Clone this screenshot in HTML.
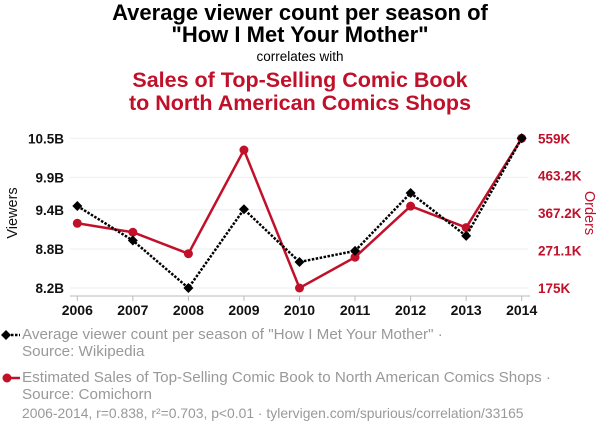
<!DOCTYPE html>
<html><head><meta charset="utf-8"><style>
body{margin:0;width:600px;height:436px;background:#fff;font-family:"Liberation Sans",sans-serif;overflow:hidden;position:relative}
.t{position:absolute;left:0;width:600px;text-align:center}
.leg{position:absolute;left:22px;font-size:15.2px;color:#999;line-height:17px;white-space:nowrap}
</style></head><body>
<div class="t" style="top:2px;font-size:22px;font-weight:bold;line-height:22px;color:#000">Average viewer count per season of<br>"How I Met Your Mother"</div>
<div class="t" style="top:49px;font-size:13.5px">correlates with</div>
<div class="t" style="top:69px;font-size:21.5px;font-weight:bold;line-height:23px;color:#c0102a">Sales of Top-Selling Comic Book<br>to North American Comics Shops</div>
<svg id="c" width="600" height="436" style="position:absolute;left:0;top:0"></svg>
<div class="leg" style="top:326px">Average viewer count per season of "How I Met Your Mother" ·<br>Source: Wikipedia</div>
<div class="leg" style="top:369px">Estimated Sales of Top-Selling Comic Book to North American Comics Shops ·<br>Source: Comichorn</div>
<div class="leg" style="top:405px;left:22px;font-size:13.9px">2006-2014, r=0.838, r²=0.703, p&lt;0.01 · tylervigen.com/spurious/correlation/33165</div>
<script>
const years=[2006,2007,2008,2009,2010,2011,2012,2013,2014];
const viewers=[9.46,8.93,8.2,9.41,8.60,8.77,9.66,9.00,10.5];
const sales=[341,318,263,529,175,254,385,330,559];
const leftTicks=[8.2,8.8,9.4,9.9,10.5];
const leftLabels=["8.2B","8.8B","9.4B","9.9B","10.5B"];
const rightTicks=[175,271.1,367.2,463.2,559];
const rightLabels=["175K","271.1K","367.2K","463.2K","559K"];
const NS="http://www.w3.org/2000/svg",svg=document.getElementById('c');
const X0=77.3,X1=521.7,Y0=288,Y1=138.3;
const x=v=>X0+(v-2006)/(2014-2006)*(X1-X0);
const yl=v=>Y0-(v-8.2)/(10.5-8.2)*(Y0-Y1);
const yr=v=>Y0-(v-175)/(559-175)*(Y0-Y1);
function mk(t,a,p){const e=document.createElementNS(NS,t);for(const k in a)e.setAttribute(k,a[k]);(p||svg).appendChild(e);return e;}
leftTicks.forEach((t,i)=>{
 const g=mk('line',{x1:70,x2:528,y1:yl(t),y2:yl(t),stroke:'#eee','stroke-width':1});
 
 
 const l=mk('text',{x:64,y:yl(t)+5,'text-anchor':'end','font-size':13.5,'font-weight':'bold',fill:'#111'});l.textContent=leftLabels[i];
 
 
});
rightTicks.forEach((t,i)=>{
 const l=mk('text',{x:538,y:yr(t)+5,'font-size':13.5,'font-weight':'bold',fill:'#c0102a'});l.textContent=rightLabels[i];
 
 
});
const ax=mk('line',{x1:70,x2:530,y1:296,y2:296,stroke:'#bbb','stroke-width':1});


years.forEach(yv=>{
 mk('line',{x1:x(yv),x2:x(yv),y1:296,y2:301,stroke:'#bbb'});
 const l=mk('text',{x:x(yv),y:315,'text-anchor':'middle','font-size':14,'font-weight':'bold',fill:'#111'});l.textContent=yv;
 
 
});
let t1=mk('text',{x:0,y:0,transform:'translate(17,213) rotate(-90)','text-anchor':'middle','font-size':14.5,fill:'#111'});t1.textContent='Viewers';


let t2=mk('text',{x:0,y:0,transform:'translate(585,213) rotate(90)','text-anchor':'middle','font-size':14.5,fill:'#c0102a'});t2.textContent='Orders';


const rl=mk('polyline',{points:years.map((yv,i)=>x(yv)+','+yr(sales[i])).join(' '),fill:'none',stroke:'#c0102a','stroke-width':2.5});


years.forEach((yv,i)=>{const c=mk('circle',{cx:x(yv),cy:yr(sales[i]),r:4.5,fill:'#c0102a'});
 
 });
const bl=mk('polyline',{points:years.map((yv,i)=>x(yv)+','+yl(viewers[i])).join(' '),fill:'none',stroke:'#000','stroke-width':2.5,'stroke-dasharray':'2.5,1.5'});


years.forEach((yv,i)=>{const cx=x(yv),cy=yl(viewers[i]);const d=mk('polygon',{points:`${cx},${cy-5} ${cx+5},${cy} ${cx},${cy+5} ${cx-5},${cy}`,fill:'#000'});
 
 });
mk('line',{x1:3,x2:20,y1:335,y2:335,stroke:'#000','stroke-width':2.5,'stroke-dasharray':'2.5,1.5'});
mk('polygon',{points:'6,330 11,335 6,340 1,335',fill:'#000'});
mk('line',{x1:3,x2:20,y1:378,y2:378,stroke:'#c0102a','stroke-width':2.5});
mk('circle',{cx:7,cy:378,r:4.5,fill:'#c0102a'});
</script>
</body></html>
